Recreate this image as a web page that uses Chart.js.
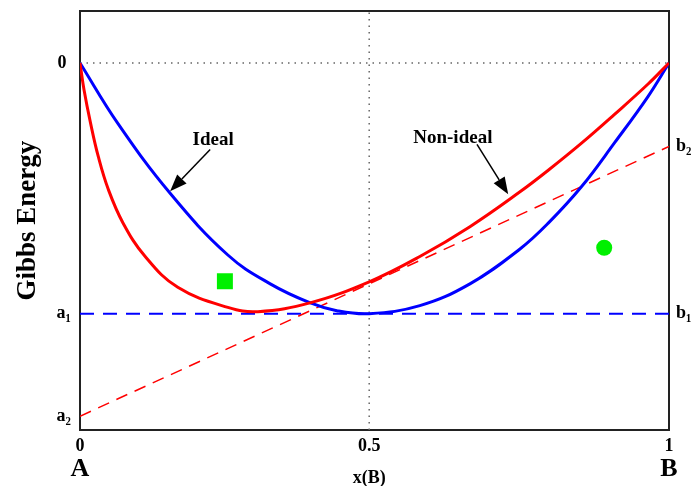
<!DOCTYPE html>
<html lang="en">
<head>
<meta charset="UTF-8">
<title>Gibbs Energy of Mixing</title>
<script src="https://cdn.jsdelivr.net/npm/chart.js"></script>
<style>
    body { margin: 0; background: #fff; }
    #chart { display: block; }
</style>
</head>
<body>
<canvas id="chart" width="694" height="486"></canvas>
<script>
    // Gibbs energy vs composition x(B) (0 = pure A / B, -1 = a1-b1 level)
    const idealX = [0, 0.0645, 0.153, 0.251, 0.323, 0.39, 0.436, 0.491, 0.577, 0.662, 0.747, 0.795, 0.852, 0.908, 0.964, 1];
    const idealG = [0, -0.242, -0.52, -0.766, -0.881, -0.956, -0.988, -1, -0.968, -0.881, -0.742, -0.639, -0.492, -0.317, -0.135, 0];
    const nonIdealX = [0, 0.0068, 0.018, 0.031, 0.048, 0.073, 0.11, 0.166, 0.251, 0.302, 0.392, 0.491, 0.577, 0.662, 0.747, 0.795, 0.852, 0.908, 0.964, 1];
    const nonIdealG = [0, -0.107, -0.241, -0.373, -0.504, -0.638, -0.77, -0.895, -0.975, -0.992, -0.956, -0.873, -0.772, -0.653, -0.514, -0.428, -0.319, -0.204, -0.085, 0];

    // tangent lines a1-b1 (ideal) and a2-b2 (non-ideal)
    const tangentX = [0, 1];
    const idealTangent = [-1, -1];
    const nonIdealTangent = [-1.409, -0.333];
    const zeroLine = [0, 0];
    // the figure draws its "0.5" mark slightly left of the true middle
    const midX = 0.491;

    const yRange = [-1.464, 0.206];
    const leftTicks = [0, -1, -1.409];
    const leftLabels = ['0 ', 'a\u2081', 'a\u2082'];
    const rightTicks = [-0.333, -1];
    const rightLabels = ['b\u2082', 'b\u2081'];
    const xTicks = [0, midX, 1];
    const xLabels = ['0', '0.5', '1'];
    const endLabels = ['A', 'x(B)', 'B'];

    const squarePoint = [0.246, -0.871];
    const circlePoint = [0.89, -0.737];

    const arrowLabels = ['Ideal', 'Non-ideal'];
    const arrowLabelPos = [[0.226, -0.306], [0.633, -0.298]];
    const arrowFrom = [[0.221, -0.345], [0.674, -0.325]];
    const arrowTo = [[0.153, -0.512], [0.727, -0.524]];

    const serif = '"Liberation Serif", "Times New Roman", serif';
    const pts = (xs, ys) => xs.map((v, i) => ({ x: v, y: ys[i] }));

    const arrowPlugin = {
        id: 'arrows',
        afterDatasetsDraw(chart) {
            const { ctx, scales: { x, y } } = chart;
            ctx.save();
            ctx.strokeStyle = '#000';
            ctx.fillStyle = '#000';
            ctx.lineWidth = 1.5;
            arrowFrom.forEach((from, i) => {
                const x0 = x.getPixelForValue(from[0]), y0 = y.getPixelForValue(from[1]);
                const x1 = x.getPixelForValue(arrowTo[i][0]), y1 = y.getPixelForValue(arrowTo[i][1]);
                const a = Math.atan2(y1 - y0, x1 - x0);
                const c = Math.cos(a), s = Math.sin(a);
                const len = 17, half = 6.5;
                ctx.beginPath();
                ctx.moveTo(x0, y0);
                ctx.lineTo(x1 - len * c, y1 - len * s);
                ctx.stroke();
                ctx.beginPath();
                ctx.moveTo(x1, y1);
                ctx.lineTo(x1 - len * c + half * s, y1 - len * s - half * c);
                ctx.lineTo(x1 - len * c - half * s, y1 - len * s + half * c);
                ctx.closePath();
                ctx.fill();

                ctx.font = 'bold 19px ' + serif;
                ctx.textAlign = 'center';
                ctx.textBaseline = 'middle';
                ctx.fillText(arrowLabels[i], x.getPixelForValue(arrowLabelPos[i][0]), y.getPixelForValue(arrowLabelPos[i][1]));
            });
            ctx.restore();
        }
    };

    const frame = { display: true, color: '#222', width: 2 };
    const noGrid = { display: false, drawTicks: false };
    const fixHeight = h => s => { s.height = h; s.paddingLeft = 0; s.paddingRight = 0; };
    const fixWidth = w => s => { s.width = w; s.paddingTop = 0; s.paddingBottom = 0; };

    new Chart(document.getElementById('chart'), {
        type: 'line',
        data: {
            datasets: [
                {
                    label: 'Non-ideal',
                    data: pts(nonIdealX, nonIdealG),
                    borderColor: '#ff0000',
                    borderWidth: 3,
                    pointRadius: 0,
                    tension: 0.4
                },
                {
                    label: 'Ideal',
                    data: pts(idealX, idealG),
                    borderColor: '#0000ff',
                    borderWidth: 3,
                    pointRadius: 0,
                    tension: 0.4
                },
                {
                    label: 'a2-b2',
                    data: pts(tangentX, nonIdealTangent),
                    borderColor: '#ff0000',
                    borderWidth: 1.5,
                    borderDash: [12, 8],
                    pointRadius: 0
                },
                {
                    label: 'a1-b1',
                    data: pts(tangentX, idealTangent),
                    borderColor: '#0000ff',
                    borderWidth: 2,
                    borderDash: [14, 9],
                    pointRadius: 0
                },
                {
                    label: 'zero',
                    data: pts(tangentX, zeroLine),
                    borderColor: '#666',
                    borderWidth: 1.5,
                    borderDash: [1.5, 5],
                    pointRadius: 0
                },
                {
                    label: 'mid',
                    data: pts([midX, midX], yRange),
                    borderColor: '#666',
                    borderWidth: 1.5,
                    borderDash: [1.5, 5],
                    pointRadius: 0
                },
                {
                    label: 'square',
                    data: pts([squarePoint[0]], [squarePoint[1]]),
                    showLine: false,
                    pointStyle: 'rect',
                    pointRadius: 11.3,
                    backgroundColor: '#00f000',
                    borderWidth: 0
                },
                {
                    label: 'circle',
                    data: pts([circlePoint[0]], [circlePoint[1]]),
                    showLine: false,
                    pointStyle: 'circle',
                    pointRadius: 8,
                    backgroundColor: '#00f000',
                    borderWidth: 0
                }
            ]
        },
        options: {
            responsive: false,
            animation: false,
            layout: { padding: { top: 9, left: 0, right: 0, bottom: 0 } },
            plugins: { legend: { display: false }, tooltip: { enabled: false } },
            scales: {
                x: {
                    type: 'linear',
                    position: 'bottom',
                    weight: 0,
                    min: 0,
                    max: 1,
                    afterBuildTicks: s => { s.ticks = xTicks.map(v => ({ value: v })); },
                    afterFit: fixHeight(24),
                    grid: noGrid,
                    border: frame,
                    ticks: {
                        padding: 6,
                        color: '#000',
                        autoSkip: false,
                        maxRotation: 0,
                        font: { family: serif, size: 18, weight: 'bold' },
                        callback: (v, i) => xLabels[i]
                    }
                },
                x2: {
                    type: 'linear',
                    position: 'bottom',
                    weight: 1,
                    min: 0,
                    max: 1,
                    afterBuildTicks: s => { s.ticks = xTicks.map(v => ({ value: v })); },
                    afterFit: fixHeight(32),
                    grid: noGrid,
                    border: { display: false },
                    ticks: {
                        padding: 0,
                        color: '#000',
                        autoSkip: false,
                        maxRotation: 0,
                        font: ctx => ctx.index === 1
                            ? { family: serif, size: 18, weight: 'bold', lineHeight: 2.67 }
                            : { family: serif, size: 26, weight: 'bold', lineHeight: 1.2 },
                        callback: (v, i) => endLabels[i]
                    }
                },
                xTop: {
                    type: 'linear',
                    position: 'top',
                    min: 0,
                    max: 1,
                    afterFit: fixHeight(0),
                    grid: noGrid,
                    border: frame,
                    ticks: { display: false }
                },
                y: {
                    type: 'linear',
                    position: 'left',
                    min: yRange[0],
                    max: yRange[1],
                    afterBuildTicks: s => { s.ticks = leftTicks.map(v => ({ value: v })); },
                    afterFit: fixWidth(80),
                    grid: noGrid,
                    border: frame,
                    ticks: {
                        padding: 9,
                        color: '#000',
                        autoSkip: false,
                        font: { family: serif, size: 18, weight: 'bold' },
                        callback: (v, i) => leftLabels[i]
                    },
                    title: {
                        display: true,
                        text: 'Gibbs Energy',
                        color: '#000',
                        padding: { top: 12, bottom: 0 },
                        font: { family: serif, size: 27, weight: 'bold' }
                    }
                },
                y2: {
                    type: 'linear',
                    position: 'right',
                    min: yRange[0],
                    max: yRange[1],
                    afterBuildTicks: s => { s.ticks = rightTicks.map(v => ({ value: v })); },
                    afterFit: fixWidth(25),
                    grid: noGrid,
                    border: frame,
                    ticks: {
                        padding: 7,
                        color: '#000',
                        autoSkip: false,
                        font: { family: serif, size: 18, weight: 'bold' },
                        callback: (v, i) => rightLabels[i]
                    }
                }
            }
        },
        plugins: [arrowPlugin]
    });
</script>
</body>
</html>
